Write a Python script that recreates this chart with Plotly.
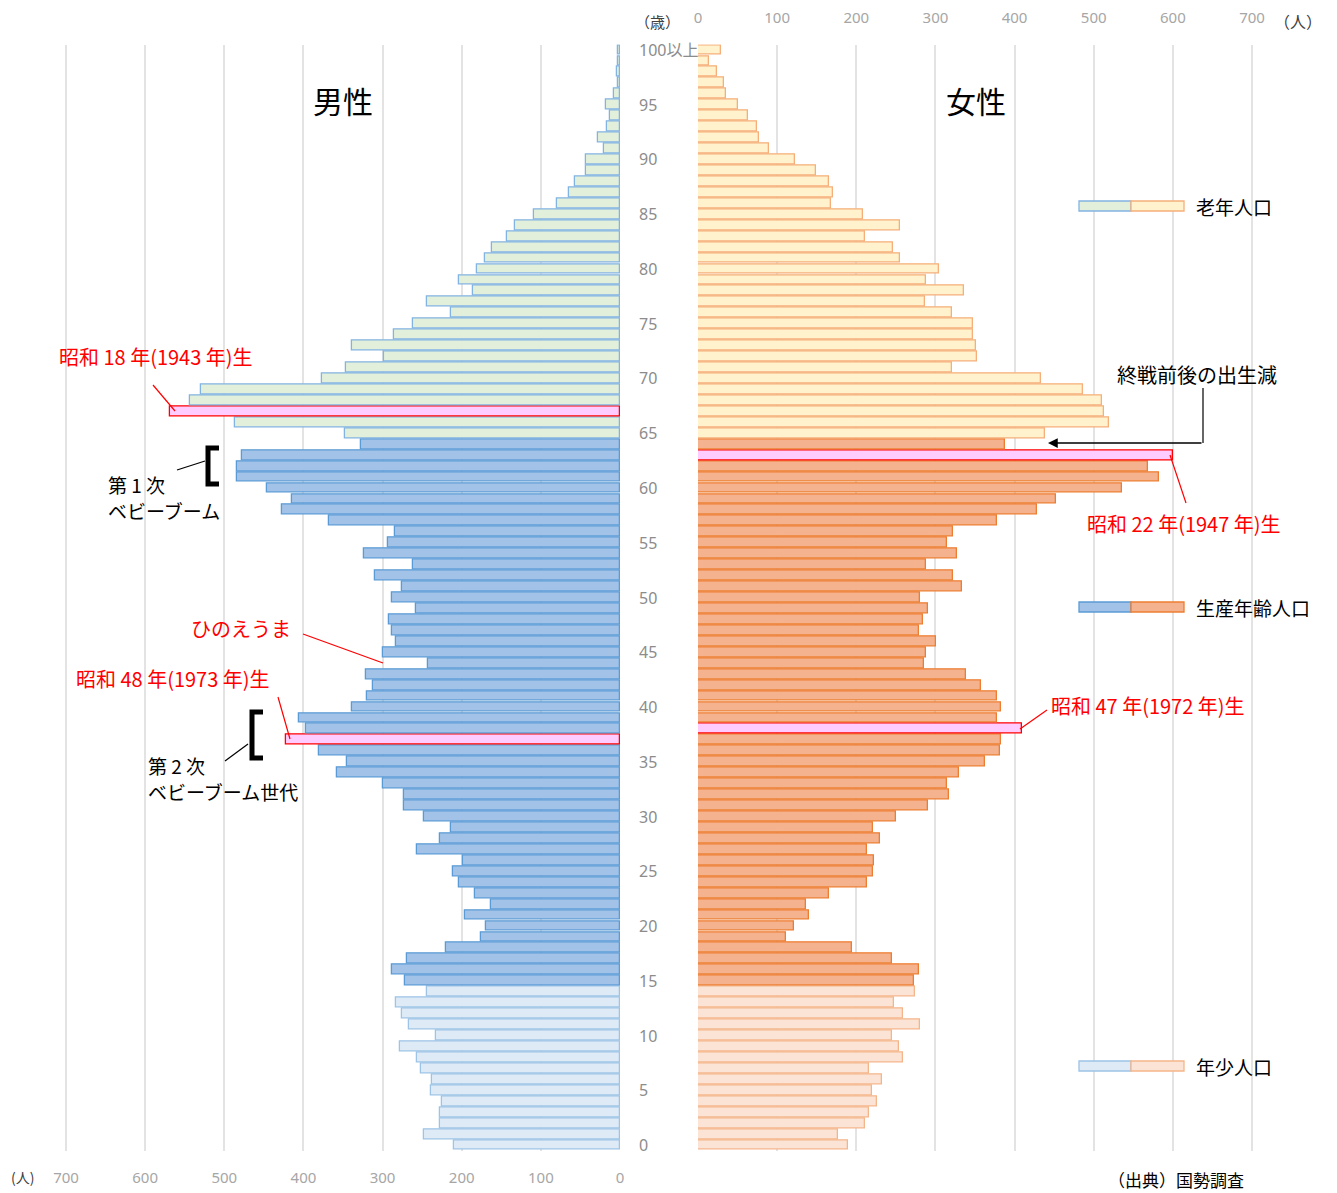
import plotly.graph_objects as go

# ページ余白(8px)の分だけ図を小さくし、座標もずらす
OFF = 8
W, H = 1337 - OFF, 1193 - OFF

# 年齢 0〜100以上
ages = list(range(101))
male = [210, 248, 227, 227, 225, 239, 237, 251, 256, 278,
        232, 266, 276, 283, 244, 271, 288, 269, 220, 176,
        169, 196, 163, 183, 203, 211, 198, 256, 227, 213,
        248, 273, 273, 300, 358, 345, 380, 422, 397, 406,
        338, 319, 312, 321, 242, 300, 283, 288, 292, 258,
        288, 276, 310, 261, 324, 293, 284, 368, 427, 414,
        446, 484, 484, 477, 327, 348, 487, 569, 543, 529,
        377, 346, 298, 338, 286, 261, 213, 244, 186, 203,
        181, 171, 162, 143, 132, 108, 79, 65, 57, 43,
        43, 20, 28, 16, 13, 18, 8, 3, 4, 2,
        3]
female = [189, 177, 211, 216, 226, 220, 233, 216, 259, 254,
          245, 281, 259, 248, 274, 273, 279, 245, 194, 111,
          121, 140, 137, 165, 213, 221, 223, 213, 230, 221,
          250, 291, 317, 315, 330, 362, 381, 383, 410, 378,
          383, 378, 357, 338, 285, 288, 301, 279, 284, 291,
          281, 333, 322, 288, 327, 314, 322, 378, 428, 452,
          536, 583, 568, 600, 388, 439, 519, 513, 510, 486,
          434, 321, 352, 351, 348, 348, 321, 287, 336, 288,
          304, 255, 247, 211, 255, 209, 168, 170, 165, 149,
          122, 90, 77, 75, 63, 51, 35, 33, 24, 14,
          29]
male_marked = [67, 37]
female_marked = [63, 38]
age_ticks = list(range(0, 101, 5))
age_labels = [str(a) for a in range(0, 100, 5)] + ["100以上"]
count_ticks = list(range(0, 701, 100))

male_pal = {"old": ("#E2EFDA", "#82B4E2"), "work": ("#A2C2E8", "#5B9BD5"),
            "young": ("#DEEBF7", "#9DC3E6")}
female_pal = {"old": ("#FFF2CC", "#F6AE7A"), "work": ("#F4B28F", "#ED7D31"),
              "young": ("#FBE4D5", "#F5B58A")}
mark = ("#FFCCFF", "#FF0000")


def px(x):
    return (x - OFF) / W


def py(y):
    return 1 - (y - OFF) / H


def bar_colors(marked, pal):
    fills, lines = [], []
    for a in ages:
        if a in marked:
            f, l = mark
        elif a >= 65:
            f, l = pal["old"]
        elif a >= 15:
            f, l = pal["work"]
        else:
            f, l = pal["young"]
        fills.append(f)
        lines.append(l)
    return fills, lines


m_fill, m_line = bar_colors(male_marked, male_pal)
f_fill, f_line = bar_colors(female_marked, female_pal)

fig = go.Figure()
fig.add_trace(go.Bar(y=ages, x=male, orientation="h", width=0.9,
                     marker=dict(color=m_fill, line=dict(color=m_line, width=1.3)),
                     xaxis="x", yaxis="y", showlegend=False))
fig.add_trace(go.Bar(y=ages, x=female, orientation="h", width=0.9,
                     marker=dict(color=f_fill, line=dict(color=f_line, width=1.3)),
                     xaxis="x2", yaxis="y2", showlegend=False))

grid = "#E3E3E3"
tickfont = dict(size=15, color="#A6A6A6", family="Noto Sans")
ydom = [py(1150.5), py(44.5)]
unit = 554 / 700  # 1人あたりのピクセル

fig.update_layout(
    width=W, height=H, autosize=False,
    margin=dict(l=0, r=0, t=0, b=0, pad=0, autoexpand=False),
    paper_bgcolor="white", plot_bgcolor="white",
    font=dict(family="Noto Sans CJK JP", color="black"),
    bargap=0,
    xaxis=dict(domain=[px(620 - 705 * unit), px(620)], range=[705, 0],
               tickvals=count_ticks, showgrid=True, gridcolor=grid, gridwidth=1.5,
               zeroline=False, showline=False, ticks="outside", ticklen=13,
               automargin=False, tickcolor="rgba(0,0,0,0)", tickfont=tickfont,
               anchor="y"),
    xaxis2=dict(domain=[px(698), px(698 + 705 * unit)], range=[0, 705],
                tickvals=count_ticks, side="top", showgrid=True, gridcolor=grid,
                gridwidth=1.5, zeroline=False, showline=False, ticks="outside",
                ticklen=15, automargin=False, tickcolor="rgba(0,0,0,0)",
                tickfont=tickfont, anchor="y2"),
    yaxis=dict(domain=ydom, range=[-0.5, 100.5], showticklabels=False,
               showgrid=False, zeroline=False, automargin=False, anchor="x"),
    yaxis2=dict(domain=ydom, range=[-0.5, 100.5], showticklabels=False,
                showgrid=False, zeroline=False, automargin=False, anchor="x2"),
)

ann = []
# 年齢ラベル
for a, t in zip(age_ticks, age_labels):
    ann.append(dict(x=px(637), xref="paper", y=a, yref="y", text=t,
                    xanchor="left", yanchor="middle", showarrow=False,
                    font=dict(size=16, color="#8C8C8C",
                              family="Noto Sans, Noto Sans CJK JP")))


def txt(x, y, s, size=19, color="black", anchor="left"):
    ann.append(dict(x=px(x), y=py(y), xref="paper", yref="paper", text=s,
                    xanchor=anchor, yanchor="middle", showarrow=False,
                    font=dict(size=size, color=color)))


txt(343, 100, "男性", size=30, anchor="center")
txt(976, 100, "女性", size=30, anchor="center")
txt(657, 21, "（歳）", size=15, color="#404040", anchor="center")
txt(1298, 21, "（人）", size=16, color="#404040", anchor="center")
txt(22, 1177, "(人)", size=14, color="#404040", anchor="center")
txt(1106, 1179, "（出典）国勢調査", size=17)

red = "#FF0000"
txt(57, 356, "昭和 18 年(1943 年)生", size=20, color=red)
txt(1115, 374, "終戦前後の出生減", size=20)
txt(1085, 523, "昭和 22 年(1947 年)生", size=20, color=red)
txt(106, 484, "第 1 次", size=19)
txt(106, 510, "ベビーブーム", size=19)
txt(189, 628, "ひのえうま", size=20, color=red)
txt(74, 679, "昭和 48 年(1973 年)生", size=20, color=red)
txt(1049, 705, "昭和 47 年(1972 年)生", size=20, color=red)
txt(146, 765, "第 2 次", size=19)
txt(146, 791, "ベビーブーム世代", size=19)

# 凡例
legend_rows = [(206, "老年人口", "old"), (607, "生産年齢人口", "work"),
               (1066, "年少人口", "young")]
shapes = []
for y, label, key in legend_rows:
    for (x0, x1), pal in (((1079, 1131), male_pal), ((1131, 1184), female_pal)):
        f, l = pal[key]
        shapes.append(dict(type="rect", xref="paper", yref="paper",
                           x0=px(x0), x1=px(x1), y0=py(y + 5), y1=py(y - 5),
                           fillcolor=f, line=dict(color=l, width=1.3)))
    txt(1194, y, label, size=19)


def seg(x0, y0, x1, y1, color="black", width=1.2):
    shapes.append(dict(type="line", xref="paper", yref="paper",
                       x0=px(x0), y0=py(y0), x1=px(x1), y1=py(y1),
                       line=dict(color=color, width=width)))


def bracket(x, y0, y1):
    shapes.append(dict(type="path", xref="paper", yref="paper",
                       path=f"M {px(x + 11)} {py(y0)} L {px(x)} {py(y0)} "
                            f"L {px(x)} {py(y1)} L {px(x + 11)} {py(y1)}",
                       line=dict(color="black", width=5)))


seg(153, 385, 175, 411, red)
seg(1170, 455, 1186, 503, red)
seg(303, 634, 383, 663, red)
seg(278, 697, 290, 739, red)
seg(1047, 710, 1020, 729, red)
seg(177, 470, 205, 461)
seg(225, 761, 248, 744)
bracket(208, 448, 484)
bracket(252, 712, 758)
seg(1203, 388, 1203, 443)
ann.append(dict(x=px(1048), y=py(443), xref="paper", yref="paper",
                ax=155, ay=0, axref="pixel", ayref="pixel",
                text="", showarrow=True, arrowhead=2, arrowsize=1.3,
                arrowwidth=1.5, arrowcolor="black"))

fig.update_layout(annotations=ann, shapes=shapes)
fig.write_html("out.html", config={"responsive": False})
